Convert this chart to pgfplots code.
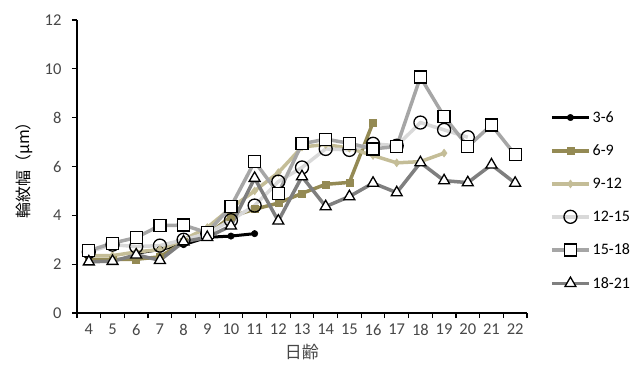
\documentclass[border=0pt]{standalone}
\usepackage{pgfplots}
\pgfplotsset{compat=1.18}
\usepackage{fontspec}
\setmainfont{Carlito}
\newfontfamily\cjk{Noto Sans CJK JP}
\definecolor{cA}{HTML}{000000}
\definecolor{cB}{HTML}{948A54}
\definecolor{cC}{HTML}{C4BD97}
\definecolor{cD}{HTML}{D9D9D9}
\definecolor{cE}{HTML}{A6A6A6}
\definecolor{cF}{HTML}{7F7F7F}
\begin{document}
\begin{tikzpicture}[x=1pt,y=1pt]
\begin{axis}[
  at={(77pt,60pt)}, anchor=south west,
  scale only axis, width=450pt, height=293pt,
  xmin=3.5, xmax=22.5, ymin=0, ymax=12,
  axis x line*=bottom, axis y line*=left,
  axis line style={line width=1.4pt, black},
  xtick={4,...,22}, ytick={0,2,...,12},
  minor xtick={3.5,4.5,...,22.5},
  major x tick style={draw=none},
  minor x tick style={black, line width=1.2pt},
  major y tick style={black, line width=1.2pt},
  tick align=outside,
  major tick length=5pt, minor tick length=5pt,
  /pgf/number format/assume math mode=true,
  ticklabel style={font=\fontsize{16.5}{19}\selectfont, text=black!72},
  xticklabel shift=2.5pt,
  yticklabel style={anchor=east},
  yticklabel={\pgfmathprintnumber{\tick}\hspace*{7pt}},
  xlabel={\fontsize{17}{20}\selectfont\cjk 日齢},
  ylabel={\fontsize{16}{19}\selectfont\cjk 輪紋幅（μm）},
  every axis x label/.style={at={(axis description cs:0.5,-0.133)}, anchor=center, text=black!72},
  every axis y label/.style={at={(axis description cs:-0.118,0.5)}, rotate=90, anchor=center, text=black},
  legend style={draw=none, at={(1.0,0.384)}, anchor=west, xshift=20pt,
    font=\fontsize{16}{19}\selectfont, row sep=17pt, fill=none},
  legend cell align=left,
  legend image code/.code={\draw[mark repeat=2,mark phase=2,#1] plot coordinates {(0pt,0pt) (18.5pt,0pt) (37pt,0pt)};},
  clip=false,
]
\addplot[cA, line width=3pt, mark=*, mark size=3.2pt, mark options={solid, fill=cA, draw=cA, line width=0.5pt}]
  coordinates {(6,2.45)(7,2.6)(8,2.8)(9,3.1)(10,3.15)(11,3.25)};
\addlegendentry{3-6}
\addplot[cB, line width=3.5pt, mark=square*, mark size=3.5pt, mark options={fill=cB, draw=cB, line width=0.5pt}]
  coordinates {(4,2.2)(5,2.2)(6,2.2)(7,2.3)(8,2.9)(9,3.2)(10,3.95)(11,4.25)(12,4.5)(13,4.9)(14,5.27)(15,5.35)(16,7.8)};
\addlegendentry{6-9}
\addplot[cC, line width=3.5pt, mark=diamond*, mark size=4pt, mark options={fill=cC, draw=cC, line width=0.5pt}]
  coordinates {(4,2.35)(5,2.35)(6,2.5)(7,2.6)(8,3.0)(9,3.5)(10,4.3)(11,5.0)(12,5.75)(13,6.8)(14,6.9)(15,6.75)(16,6.45)(17,6.15)(18,6.2)(19,6.55)};
\addlegendentry{9-12}
\addplot[cD, line width=3.5pt, mark=o, mark size=6.5pt, mark options={fill=white, draw=black, line width=1.3pt}]
  coordinates {(4,2.5)(5,2.8)(6,2.72)(7,2.76)(8,3.0)(9,3.25)(10,3.8)(11,4.4)(12,5.38)(13,5.96)(14,6.72)(15,6.68)(16,6.93)(17,6.85)(18,7.8)(19,7.5)(20,7.2)};
\addlegendentry{12-15}
\addplot[cE, line width=3.5pt, mark=square*, mark size=6pt, mark options={fill=white, draw=black, line width=1.3pt}]
  coordinates {(4,2.55)(5,2.86)(6,3.09)(7,3.58)(8,3.6)(9,3.29)(10,4.36)(11,6.2)(12,4.9)(13,6.93)(14,7.12)(15,6.95)(16,6.72)(17,6.82)(18,9.66)(19,8.05)(20,6.82)(21,7.7)(22,6.48)};
\addlegendentry{15-18}
\addplot[cF, line width=3.5pt, mark=triangle*, mark size=6.3pt, mark options={fill=white, draw=black, line width=1.3pt}]
  coordinates {(4,2.1)(5,2.12)(6,2.38)(7,2.16)(8,2.92)(9,3.1)(10,3.57)(11,5.52)(12,3.77)(13,5.59)(14,4.36)(15,4.77)(16,5.32)(17,4.93)(18,6.16)(19,5.42)(20,5.34)(21,6.07)(22,5.32)};
\addlegendentry{18-21}
\end{axis}
\pgfresetboundingbox
\path (0pt,0pt) rectangle (641pt,373pt);
\end{tikzpicture}
\end{document}
